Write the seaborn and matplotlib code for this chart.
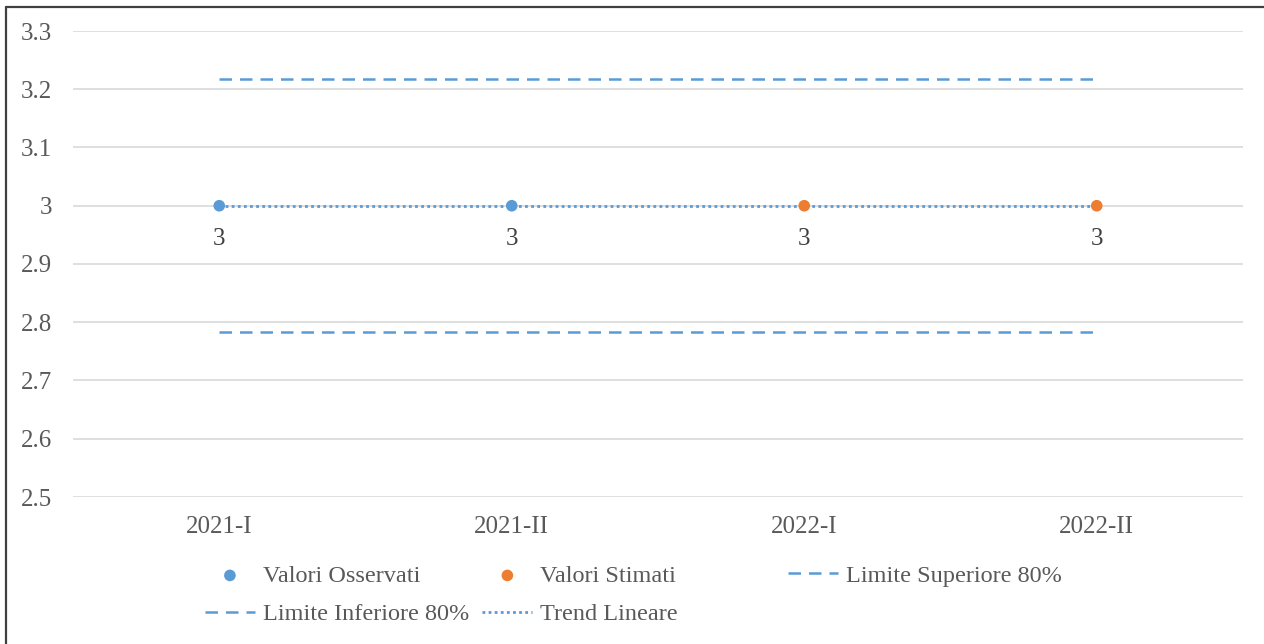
import numpy as np
import pandas as pd
import seaborn as sns
import matplotlib.pyplot as plt
from matplotlib.lines import Line2D

# data
categories = ["2021-I", "2021-II", "2022-I", "2022-II"]
observed = [3, 3, np.nan, np.nan]
estimated = [np.nan, np.nan, 3, 3]
upper_80 = [3.217, 3.217, 3.217, 3.217]
lower_80 = [2.783, 2.783, 2.783, 2.783]
trend = [3, 3, 3, 3]
y_ticks = [2.5, 2.6, 2.7, 2.8, 2.9, 3.0, 3.1, 3.2, 3.3]
y_tick_labels = ["2.5", "2.6", "2.7", "2.8", "2.9", "3", "3.1", "3.2", "3.3"]

blue = "#5B9BD5"
orange = "#ED7D31"
grey_txt = "#595959"
fs = 18

df = pd.DataFrame({"x": range(len(categories)), "obs": observed, "est": estimated,
                   "up": upper_80, "low": lower_80, "trend": trend})

sns.set_style("white")
plt.rcParams["font.family"] = ["Liberation Serif", "DejaVu Serif"]

fig = plt.figure(figsize=(12.64, 6.44), dpi=100)
ax = fig.add_axes([73 / 1264, 1 - 497 / 644, 1170 / 1264, 466 / 644])

sns.lineplot(data=df, x="x", y="up", ax=ax, color=blue, lw=1.8,
             label="Limite Superiore 80%")
sns.lineplot(data=df, x="x", y="low", ax=ax, color=blue, lw=1.8,
             label="Limite Inferiore 80%")
sns.lineplot(data=df, x="x", y="trend", ax=ax, color=blue, lw=2.0,
             label="Trend Lineare")
ax.lines[0].set_dashes((5, 3.2))
ax.lines[1].set_dashes((5, 3.2))
ax.lines[2].set_linestyle((0, (1.0, 1.2)))

sns.scatterplot(data=df, x="x", y="obs", ax=ax, color=blue, s=70, edgecolor="none",
                label="Valori Osservati", zorder=5)
sns.scatterplot(data=df, x="x", y="est", ax=ax, color=orange, s=70, edgecolor="none",
                label="Valori Stimati", zorder=5)

# data labels below points
for i in range(len(categories)):
    v = observed[i] if not np.isnan(observed[i]) else estimated[i]
    ax.annotate(f"{v:g}", (i, v), xytext=(0, -24), textcoords="offset points",
                ha="center", va="center", fontsize=fs, color="#404040")

ax.set_xlim(-0.5, len(categories) - 0.5)
ax.set_ylim(2.5, 3.3)
ax.set_yticks(y_ticks)
ax.set_yticklabels(y_tick_labels)
ax.set_xticks(range(len(categories)))
ax.set_xticklabels(categories)
ax.grid(axis="y", color="#D9D9D9", lw=1.2)
ax.set_axisbelow(True)
for s in ax.spines.values():
    s.set_visible(False)
ax.tick_params(axis="both", length=0, labelsize=fs, labelcolor=grey_txt)
ax.tick_params(axis="y", pad=15)
ax.tick_params(axis="x", pad=14)
ax.set_xlabel("")
ax.set_ylabel("")

handles, labels = ax.get_legend_handles_labels()
ax.get_legend().remove()
hmap = dict(zip(labels, handles))
order = ["Valori Osservati", "Limite Inferiore 80%", "Valori Stimati", "Trend Lineare"]
leg_kw = dict(frameon=False, fontsize=17.5, handlelength=2.05, handletextpad=0.33,
              labelspacing=0.68, borderpad=0, borderaxespad=0)
leg = fig.legend([hmap[k] for k in order], order, loc="upper left",
                 bbox_to_anchor=(205 / 1264, 0.123), ncol=2, columnspacing=0.55, **leg_kw)
leg2 = fig.legend([hmap["Limite Superiore 80%"]], ["Limite Superiore 80%"], loc="upper left",
                  bbox_to_anchor=(788 / 1264, 0.123), **leg_kw)
for lg in (leg, leg2):
    for t in lg.get_texts():
        t.set_color(grey_txt)

# outer frame (left and top edges visible in the reference)
fig.add_artist(Line2D([5.5 / 1264, 5.5 / 1264], [0, 1 - 6.5 / 644], color="#404040", lw=1.6))
fig.add_artist(Line2D([5.5 / 1264, 1], [1 - 6.5 / 644, 1 - 6.5 / 644], color="#404040", lw=1.6))

fig.savefig("out.png", dpi=100)
